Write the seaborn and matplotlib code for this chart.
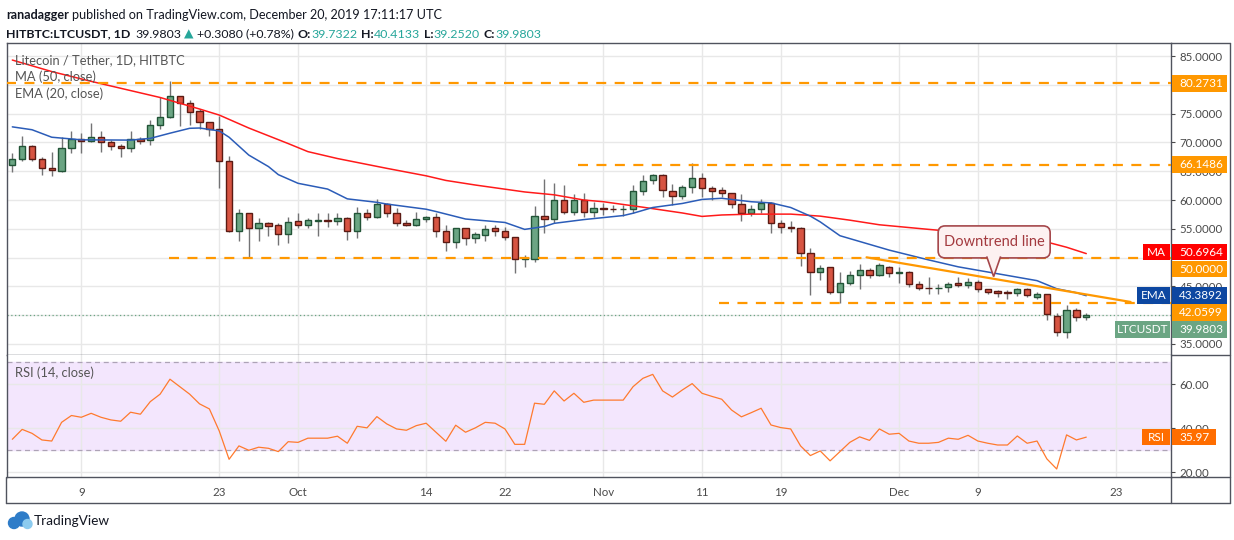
"""LTC/USDT daily candles with MA50, EMA20 and RSI14, TradingView style."""
import matplotlib
matplotlib.use("Agg")
import matplotlib.pyplot as plt
import matplotlib.transforms as mtransforms
from matplotlib.lines import Line2D
from matplotlib.patches import Rectangle, Circle, FancyBboxPatch, Polygon
import numpy as np
import pandas as pd
import seaborn as sns

# ---------------------------------------------------------------- data
FIRST_DAY = "2019-09-02"

OPEN = [66.0, 67.2, 69.3, 67.2, 65.5, 65.0, 69.0, 70.65, 70.2, 71.0,
        70.1, 69.3, 69.1, 70.65, 70.35, 72.95, 74.35, 78.05, 76.8, 75.5,
        73.5, 72.4, 66.7, 54.7, 57.7, 55.2, 55.95, 55.6, 54.05, 56.35,
        55.7, 56.4, 56.5, 56.4, 56.8, 54.6, 57.7, 57.1, 59.25, 57.7,
        56.0, 55.7, 56.65, 57.05, 54.7, 52.65, 55.1, 53.35, 53.85, 55.1,
        54.7, 53.5, 49.7, 49.7, 57.2, 56.75, 59.95, 57.85, 59.95, 58.0,
        58.55, 58.5, 58.45, 58.5, 61.5, 63.4, 64.3, 61.5, 60.65, 62.2,
        63.75, 62.1, 61.7, 61.15, 59.25, 57.7, 58.4, 59.4, 55.95, 55.25,
        55.1, 50.75, 47.45, 48.3, 43.95, 45.55, 46.9, 47.8, 46.9, 48.45,
        47.25, 47.55, 45.5, 44.8, 44.75, 44.85, 45.6, 45.2, 45.7, 44.5,
        44.2, 43.95, 43.85, 44.5, 43.2, 43.7, 39.9, 37.05, 40.9, 39.7322]
HIGH = [68.1, 71.1, 69.6, 67.4, 68.3, 70.9, 71.9, 71.7, 73.4, 72.0,
        70.4, 69.8, 71.9, 71.0, 73.9, 77.8, 80.7, 78.1, 77.4, 75.8,
        73.5, 74.5, 67.6, 58.4, 57.7, 56.8, 56.1, 55.95, 57.1, 57.7,
        56.8, 57.7, 57.7, 57.7, 57.1, 58.7, 58.5, 60.1, 59.4, 58.55,
        56.6, 57.9, 57.2, 57.7, 55.7, 55.2, 55.1, 54.4, 55.7, 55.7,
        55.25, 53.5, 50.45, 58.96, 63.6, 62.9, 62.6, 61.0, 61.3, 59.7,
        59.4, 59.1, 59.1, 62.6, 64.3, 64.5, 64.5, 62.8, 62.6, 66.4,
        64.75, 62.45, 62.2, 61.2, 61.0, 59.1, 60.1, 59.7, 56.5, 56.35,
        55.4, 51.6, 48.7, 48.3, 47.45, 47.7, 48.9, 48.25, 49.0, 48.5,
        48.45, 47.6, 46.0, 46.7, 45.5, 45.8, 46.6, 46.4, 46.1, 44.5,
        44.4, 44.4, 44.65, 44.65, 44.1, 43.7, 40.35, 41.75, 41.2, 40.4133]
LOW = [64.9, 66.7, 66.7, 64.3, 64.1, 64.8, 68.1, 68.1, 70.0, 68.4,
       68.6, 67.5, 68.4, 69.8, 69.6, 72.4, 74.3, 72.85, 73.0, 72.3,
       71.1, 62.1, 54.5, 52.9, 50.0, 52.8, 53.75, 52.2, 52.6, 55.1,
       55.2, 53.8, 55.4, 55.7, 53.1, 53.4, 56.5, 56.8, 57.1, 55.5,
       55.5, 55.5, 56.1, 53.6, 51.2, 51.6, 52.25, 52.6, 52.8, 53.8,
       53.1, 47.3, 48.4, 49.2, 54.2, 55.95, 57.5, 57.4, 57.1, 57.1,
       57.4, 58.0, 57.2, 57.8, 60.9, 62.8, 60.6, 59.1, 60.1, 61.2,
       60.6, 60.0, 60.6, 58.55, 56.4, 57.3, 57.7, 54.2, 54.3, 54.5,
       48.6, 43.5, 46.1, 43.6, 42.05, 45.25, 44.6, 46.4, 46.8, 46.7,
       45.65, 44.95, 44.4, 43.7, 43.7, 44.1, 44.95, 44.7, 44.1, 43.6,
       43.2, 42.75, 43.35, 43.1, 42.8, 39.2, 36.4, 36.0, 39.05, 39.2520]
CLOSE = [67.2, 69.3, 67.2, 65.5, 65.2, 69.0, 70.65, 70.2, 71.0, 70.1,
         69.3, 69.1, 70.65, 70.3, 72.95, 74.35, 78.05, 76.8, 75.35, 73.5,
         72.4, 66.7, 54.7, 57.7, 55.2, 55.95, 55.55, 54.05, 56.15, 55.7,
         56.45, 56.5, 56.4, 56.8, 54.7, 57.7, 57.1, 59.25, 57.7, 55.95,
         55.7, 56.65, 57.05, 54.7, 52.65, 55.1, 53.35, 54.05, 54.9, 54.7,
         53.5, 49.7, 49.9, 57.15, 56.75, 59.95, 57.85, 59.95, 58.0, 58.55,
         58.5, 58.45, 58.5, 61.5, 63.25, 64.3, 61.7, 60.65, 62.2, 63.75,
         62.1, 61.6, 61.15, 59.25, 57.7, 58.4, 59.4, 55.95, 55.25, 55.1,
         50.75, 47.45, 48.15, 43.95, 45.55, 46.9, 47.8, 46.9, 48.65, 47.25,
         47.55, 45.5, 44.8, 44.75, 44.8, 45.35, 45.2, 45.7, 44.5, 44.1,
         43.85, 43.85, 44.5, 43.5, 43.7, 40.15, 37.05, 40.9, 39.6723, 39.9803]

# MA(50) and EMA(20) at these days (days after FIRST_DAY)
MA_DAY = [0, 4, 8, 15, 19, 21, 24, 28, 30, 33, 38, 42, 44, 47, 52, 55, 58,
          60, 64, 68, 70, 72, 75, 79, 82, 85, 88, 93, 97, 103, 105, 107, 109]
MA_VALUE = [84.3, 82.3, 80.6, 77.8, 75.8, 74.75, 72.5, 69.8, 68.4, 67.2,
            65.5, 64.2, 63.4, 62.6, 61.4, 60.9, 60.0, 59.7, 58.75, 57.75,
            57.15, 57.4, 57.55, 57.55, 57.2, 56.5, 55.7, 54.9, 54.3, 53.35,
            52.7, 51.8, 50.6964]
EMA_DAY = [0, 2, 4, 7, 12, 14, 16, 18, 19, 21, 22, 24, 26, 27, 29, 32, 34,
           37, 38, 42, 43, 46, 50, 52, 54, 55, 58, 62, 63, 65, 68, 70, 72,
           75, 77, 79, 81, 82, 84, 86, 89, 93, 96, 100, 104, 106, 108, 109]
EMA_VALUE = [72.7, 72.2, 70.9, 70.45, 70.4, 70.7, 71.6, 72.45, 72.5, 72.0,
             70.9, 67.8, 65.8, 64.4, 62.9, 61.9, 60.2, 59.6, 59.3, 58.4,
             58.0, 56.7, 56.1, 54.9, 55.4, 55.95, 56.6, 57.3, 57.7, 58.7,
             59.4, 60.1, 60.3, 59.7, 59.5, 58.7, 57.2, 56.2, 53.8, 52.8,
             51.3, 49.6, 48.4, 47.2, 46.0, 44.6, 43.9, 43.3892]

RSI_VALUE = [35.0, 39.5, 37.7, 34.7, 34.2, 42.7, 45.8, 45.0, 46.8, 45.0,
             43.8, 43.2, 47.3, 46.4, 52.1, 55.5, 62.3, 58.9, 55.5, 51.1,
             48.8, 38.8, 25.9, 32.0, 30.0, 31.4, 30.9, 29.4, 33.9, 33.6,
             35.5, 35.5, 35.5, 36.4, 33.2, 40.9, 40.2, 45.3, 42.0, 39.7,
             39.1, 41.2, 42.3, 38.2, 34.1, 41.4, 38.2, 40.2, 42.7, 42.3,
             39.7, 32.7, 32.7, 51.4, 50.9, 57.0, 52.4, 55.9, 51.8, 52.8,
             52.8, 52.8, 52.8, 58.9, 62.7, 64.5, 57.0, 54.2, 57.4, 60.3,
             55.9, 54.5, 53.2, 48.3, 45.2, 47.1, 49.1, 41.5, 40.3, 39.7,
             32.0, 27.6, 29.7, 25.2, 29.4, 33.6, 36.1, 34.5, 39.7, 37.3,
             37.7, 34.2, 33.2, 33.2, 33.6, 35.5, 35.0, 36.8, 34.2, 33.2,
             32.4, 32.4, 36.5, 33.2, 34.2, 26.1, 21.5, 37.0, 34.7, 35.97]

# drawn horizontal levels and where each one begins (day after FIRST_DAY)
LEVELS = [80.2731, 66.1486, 50.0, 42.0599]
LEVEL_FROM = [-0.6, 57.4, 15.9, 71.7]
TREND_DAY = [86.7, 113.5]
TREND_PRICE = [50.05, 42.3]
NOTE_TEXT = "Downtrend line"
NOTE_DAY, NOTE_PRICE = 99.6, 46.7

PRICE_TICKS = [35, 40, 45, 50, 55, 60, 65, 70, 75, 80, 85]
HIDDEN_PRICE_LABELS = [40, 50, 80]      # fully covered by the price tags
RSI_TICKS = [20, 40, 60]
TIME_TICKS = ["2019-09-09", "2019-09-23", "2019-10-01", "2019-10-14",
              "2019-10-22", "2019-11-01", "2019-11-11", "2019-11-19",
              "2019-12-01", "2019-12-09", "2019-12-23"]
TIME_LABELS = ["9", "23", "Oct", "14", "22", "Nov", "11", "19", "Dec", "9", "23"]

# ---------------------------------------------------------------- style
sns.set_style("white")
plt.rcParams["font.family"] = ["Lato", "DejaVu Sans"]

W, H = 1234, 540
DARK = "#131722"
AXIS_TXT = "#4a4a4a"
FRAME = "#50535E"
ORANGE = "#FF9800"
TEAL = "#26A69A"
UP, UP_EDGE = "#6BA583", "#225437"
DOWN, DOWN_EDGE = "#D75442", "#5B1A13"
GRID = "#E8E8E8"
NOTE_FC, NOTE_EC = "#FDF1F1", "#A5474B"


def fx(px):
    return px / W


def fy(py):
    return 1 - py / H


fig = plt.figure(figsize=(W / 100, H / 100), dpi=100)
fig.patch.set_facecolor("white")
ax = fig.add_axes([fx(7), fy(355), fx(1171) - fx(7), fy(43) - fy(355)])
ax_rsi = fig.add_axes([fx(7), fy(477), fx(1171) - fx(7), fy(355) - fy(477)],
                      sharex=ax)

first = pd.Timestamp(FIRST_DAY)
day = np.arange(len(CLOSE))
tick_days = [(pd.Timestamp(d) - first).days for d in TIME_TICKS]
XMIN, XMAX = -0.54, 117.6

# ---------------------------------------------------------------- price pane
o, h, l, c = (np.asarray(a) for a in (OPEN, HIGH, LOW, CLOSE))
up = c >= o
ax.vlines(day, l, h, color="#737375", lw=1, zorder=3)
ax.bar(day, np.abs(c - o), bottom=np.minimum(o, c), width=0.64,
       color=np.where(up, UP, DOWN).tolist(),
       edgecolor=np.where(up, UP_EDGE, DOWN_EDGE).tolist(),
       linewidth=1, zorder=4)

sns.lineplot(x=MA_DAY, y=MA_VALUE, ax=ax, color="#FF1A1A", lw=1.1, zorder=5)
sns.lineplot(x=EMA_DAY, y=EMA_VALUE, ax=ax, color="#2B5CB8", lw=1.1, zorder=5)

ax.axhline(CLOSE[-1], color=UP, lw=0.9, ls=(0, (1, 2)), zorder=2)
for level, start in zip(LEVELS, LEVEL_FROM):
    ax.hlines(level, start, XMAX, colors=ORANGE, lw=1.6,
              linestyles=(0, (4.5, 3.8)), zorder=6)
sns.lineplot(x=TREND_DAY, y=TREND_PRICE, ax=ax, color=ORANGE, lw=1.6, zorder=6)

ax.set_xlim(XMIN, XMAX)
ax.set_ylim(33.09, 87.26)
ax.set_xlabel("")
ax.set_ylabel("")
ax.yaxis.tick_right()
ax.set_yticks(PRICE_TICKS, ["" if v in HIDDEN_PRICE_LABELS else f"{v:.4f}"
                            for v in PRICE_TICKS])
ax.tick_params(axis="y", length=3, width=0.8, color=AXIS_TXT,
               labelsize=8.3, labelcolor=AXIS_TXT, pad=3)
ax.grid(True, color=GRID, lw=1)

# ---------------------------------------------------------------- RSI pane
ax_rsi.axhspan(30, 70, color="#F3E6FD", zorder=0)
for lvl in (30, 70):
    ax_rsi.axhline(lvl, color="#ADA3B6", lw=0.9, ls=(0, (4, 3)), zorder=2)
sns.lineplot(x=day, y=RSI_VALUE, ax=ax_rsi, color="#FF7A2E", lw=0.9, zorder=4)
ax_rsi.set_ylim(17.86, 73.3)
ax_rsi.set_xlabel("")
ax_rsi.set_ylabel("")
ax_rsi.yaxis.tick_right()
ax_rsi.set_yticks(RSI_TICKS, [f"{v:.2f}" for v in RSI_TICKS])
ax_rsi.tick_params(axis="y", length=3, width=0.8, color=AXIS_TXT,
                   labelsize=8.3, labelcolor=AXIS_TXT, pad=3)
ax_rsi.grid(True, color=GRID, lw=1)
ax_rsi.set_xticks(tick_days, TIME_LABELS)
ax_rsi.tick_params(axis="x", length=3, width=0.8, color=AXIS_TXT,
                   labelsize=8.3, labelcolor=AXIS_TXT, pad=4)
ax.tick_params(axis="x", length=0, labelbottom=False)
ax_rsi.set_xlim(XMIN, XMAX)

for a in (ax, ax_rsi):
    for s in a.spines.values():
        s.set_color(FRAME)
        s.set_linewidth(1)
ax_rsi.spines["top"].set_visible(False)


# ---------------------------------------------------------------- axis tags
def tag(a, value, text, face, name=None, name_left=None, shift=0.0, width=55):
    lo, hi = a.get_ylim()
    ppu = a.get_position().height * H / (hi - lo)
    y = value - shift / ppu
    half = 8.3 / ppu
    trans = mtransforms.blended_transform_factory(fig.transFigure, a.transData)
    a.add_patch(Rectangle((fx(1172), y - half), width / W, 2 * half,
                          transform=trans, fc=face, ec="none",
                          clip_on=False, zorder=10))
    a.text(fx(1179), y, text, transform=trans, color="white", fontsize=8.5,
           va="center", ha="left", zorder=11, clip_on=False)
    if name:
        a.add_patch(Rectangle((fx(name_left), y - half), (1170 - name_left) / W,
                              2 * half, transform=trans, fc=face, ec="none",
                              clip_on=False, zorder=10))
        a.text(fx((name_left + 1170) / 2), y, name, transform=trans,
               color="white", fontsize=8.5, va="center", ha="center",
               zorder=11, clip_on=False)


tag(ax, LEVELS[0], f"{LEVELS[0]:.4f}", ORANGE)
tag(ax, LEVELS[1], f"{LEVELS[1]:.4f}", ORANGE)
tag(ax, MA_VALUE[-1], f"{MA_VALUE[-1]:.4f}", "#FF0000", "MA", 1143, shift=-1.5)
tag(ax, LEVELS[2], f"{LEVELS[2]:.4f}", ORANGE, shift=11.4)
tag(ax, EMA_VALUE[-1], f"{EMA_VALUE[-1]:.4f}", "#0D47A1", "EMA", 1137)
tag(ax, LEVELS[3], f"{LEVELS[3]:.4f}", ORANGE, shift=9.2)
tag(ax, CLOSE[-1], f"{CLOSE[-1]:.4f}", UP, "LTCUSDT", 1115, shift=14.3)
tag(ax_rsi, RSI_VALUE[-1], f"{RSI_VALUE[-1]:.2f}", "#FF6D00", "RSI", 1142,
    width=44)

# ---------------------------------------------------------------- callout bubble
px = mtransforms.IdentityTransform()
tip_x, tip_y = ax.transData.transform((NOTE_DAY, NOTE_PRICE))
box_bottom = tip_y + 18.7
fig.add_artist(FancyBboxPatch((tip_x - 55.5, box_bottom), 112, 32,
                              boxstyle="round,pad=0,rounding_size=7",
                              transform=px, fc=NOTE_FC, ec=NOTE_EC, lw=1.2))
fig.add_artist(Polygon([(tip_x - 7, box_bottom + 1.5), (tip_x, tip_y),
                        (tip_x + 7, box_bottom + 1.5)], closed=False,
                       transform=px, fc=NOTE_FC, ec=NOTE_EC, lw=1.2))
fig.text(tip_x + 0.5, box_bottom + 16, NOTE_TEXT, transform=px,
         color="#A33A3F", fontsize=10.5, ha="center", va="center")

# ---------------------------------------------------------------- frame
for x0, y0, x1, y1 in [(1171, 43, 1230, 43), (1230, 43, 1230, 503),
                       (6, 503, 1230, 503), (6, 477, 6, 503),
                       (1171, 355, 1230, 355), (1171, 477, 1230, 477),
                       (1171, 477, 1171, 503)]:
    fig.add_artist(Line2D([fx(x0), fx(x1)], [fy(y0), fy(y1)],
                          transform=fig.transFigure, color=FRAME, lw=1))

# ---------------------------------------------------------------- texts
for text, y in [("Litecoin / Tether, 1D, HITBTC", 60), ("MA (50, close)", 77),
                ("EMA (20, close)", 94)]:
    fig.text(fx(15), fy(y), text, color="#555555", fontsize=9.3, va="center")
fig.text(fx(15), fy(373), "RSI (14, close)", color="#555555", fontsize=9.3,
         va="center")

renderer = fig.canvas.get_renderer()


def text_run(x_px, y_px, parts, size=9.1):
    x = x_px
    for s, weight, color, gap in parts:
        t = fig.text(fx(x), fy(y_px), s, fontsize=size, fontweight=weight,
                     color=color, va="center", ha="left")
        x += t.get_window_extent(renderer).width + gap


change = CLOSE[-1] - CLOSE[-2]
pct = change / CLOSE[-2] * 100
text_run(6, 15, [("ranadagger", "bold", DARK, 3.5),
                 ("published on TradingView.com, December 20, 2019 17:11:17 UTC",
                  "normal", DARK, 0)])
text_run(6, 34, [("HITBTC:LTCUSDT, 1D", "bold", DARK, 5),
                 (f"{CLOSE[-1]:.4f}", "normal", DARK, 3),
                 ("\u25B2", "normal", TEAL, 3),
                 (f"+{change:.4f} (+{pct:.2f}%)", "normal", DARK, 4),
                 ("O:", "bold", DARK, 0), (f"{OPEN[-1]:.4f}", "normal", TEAL, 4),
                 ("H:", "bold", DARK, 0), (f"{HIGH[-1]:.4f}", "normal", TEAL, 4),
                 ("L:", "bold", DARK, 0), (f"{LOW[-1]:.4f}", "normal", TEAL, 4),
                 ("C:", "bold", DARK, 0), (f"{CLOSE[-1]:.4f}", "normal", TEAL, 0)],
         size=8.9)

# footer logo + name
for cx, cy, r, col in [(14, 523, 5.5, "#2E7CC8"), (22, 519, 7, "#2E7CC8"),
                       (27.5, 524, 4.5, "#8CCBEF")]:
    fig.add_artist(Circle((cx, H - cy), r, transform=px, color=col))
fig.text(fx(34), fy(521), "TradingView", color=DARK, fontsize=9.8,
         va="center", ha="left")

fig.savefig("out.png", dpi=100, facecolor="white")
